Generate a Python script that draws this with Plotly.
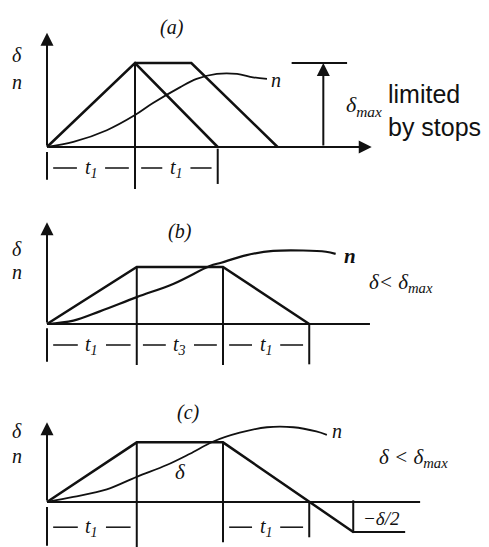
import plotly.graph_objects as go
from plotly.subplots import make_subplots

W, H = 489, 547
X0, TX, TY = 47, 88, 84   # px of time origin, px per t1, px per delta_max

# time in units of t1, deflection / speed in units of delta_max
# panel (a)
a_delta_t = [0, 1.0, 1.94]
a_delta_v = [0, 1.0, 0]
a_held_t = [1.0, 1.64, 2.62]
a_held_v = [1.0, 1.0, 0]
a_n_t = [0, 0.30, 0.68, 1.0, 1.2, 1.51, 1.7, 1.93, 2.16, 2.34, 2.5]
a_n_v = [0, 0.06, 0.20, 0.38, 0.52, 0.71, 0.81, 0.87, 0.87, 0.83, 0.81]
a_spans = [(0, 1.0, "t<sub>1</sub>"), (1.0, 1.94, "t<sub>1</sub>")]

# panel (b)
b_delta_t = [0, 1.02, 2.0, 2.98]
b_delta_v = [0, 0.68, 0.68, 0]
b_n_t = [0, 0.30, 0.60, 1.02, 1.44, 1.85, 1.98, 2.27, 2.57, 2.91, 3.17, 3.28]
b_n_v = [0, 0.04, 0.15, 0.32, 0.48, 0.69, 0.73, 0.82, 0.87, 0.875, 0.86, 0.835]
b_spans = [(0, 1.02, "t<sub>1</sub>"), (1.02, 2.0, "t<sub>3</sub>"), (2.0, 2.98, "t<sub>1</sub>")]

# panel (c)
c_delta_t = [0, 1.02, 2.0, 2.98, 3.48]
c_delta_v = [0, 0.71, 0.71, 0, -0.357]
c_n_t = [0, 0.30, 0.68, 1.02, 1.36, 1.625, 1.89, 2.19, 2.50, 2.80, 3.06, 3.18]
c_n_v = [0, 0.06, 0.15, 0.30, 0.44, 0.575, 0.72, 0.825, 0.89, 0.89, 0.84, 0.80]
c_spans = [(0, 1.02, "t<sub>1</sub>"), (2.0, 2.98, "t<sub>1</sub>")]

bands = [(0, 190, 147), (190, 365, 324), (365, 547, 502)]  # top px, bottom px, axis px

fig = make_subplots(rows=3, cols=1, row_heights=[b - t for t, b, o in bands],
                    vertical_spacing=0)

BLACK = "#111"
SERIF = "Liberation Serif"


def line(row, xs, ys, w=2.2, spline=False):
    fig.add_trace(go.Scatter(x=xs, y=ys, mode="lines",
                             line=dict(color=BLACK, width=w,
                                       shape="spline" if spline else "linear"),
                             hoverinfo="skip", showlegend=False), row=row, col=1)


def arrow(row, x, y, ax, ay):
    s = "" if row == 1 else str(row)
    fig.add_annotation(x=x, y=y, ax=ax, ay=ay, xref="x" + s, yref="y" + s,
                       axref="x" + s, ayref="y" + s, text="", showarrow=True,
                       arrowhead=2, arrowsize=1.3, arrowwidth=2, arrowcolor=BLACK,
                       standoff=0)


def text(px, py, s, size=20, font=SERIF):
    fig.add_annotation(x=px / W, y=1 - py / H, xref="paper", yref="paper",
                       text=s, showarrow=False, xanchor="center", yanchor="middle",
                       font=dict(family=font, size=size, color=BLACK))


def spans(row, items, ylev):
    xs, ys = [], []
    s_ = "" if row == 1 else str(row)
    for s, e, lab in items:
        c = (s + e) / 2
        xs += [s + 0.07, c - 0.16, None, c + 0.16, e - 0.07, None]
        ys += [ylev, ylev, None, ylev, ylev, None]
        fig.add_annotation(x=c, y=ylev, xref="x" + s_, yref="y" + s_,
                           text="<i>" + lab + "</i>", showarrow=False,
                           font=dict(family=SERIF, size=20, color=BLACK))
    line(row, xs, ys, w=1.5)


# ---------- (a)
line(1, a_delta_t, a_delta_v, 2.5)
line(1, a_held_t, a_held_v, 2.5)
line(1, a_n_t, a_n_v, 1.8, spline=True)
line(1, [0, 0], [-0.06, -0.39], 2)
line(1, [a_delta_t[1]] * 2, [a_delta_v[1], -0.5], 2)
line(1, [a_delta_t[2]] * 2, [-0.02, -0.44], 2)
arrow(1, 0, 1.36, 0, 0)
arrow(1, 3.69, 0, 0, 0)
arrow(1, 3.14, 1.0, 3.14, 0)
line(1, [2.78, 3.41], [1.0, 1.0], 2)
spans(1, a_spans, -0.25)

# ---------- (b)
line(2, b_delta_t, b_delta_v, 2.5)
line(2, b_n_t, b_n_v, 2.2, spline=True)
line(2, [0, 3.67], [0, 0], 2.2)
arrow(2, 0, 1.21, 0, 0)
line(2, [0, 0], [-0.05, -0.45], 2)
line(2, [b_delta_t[1]] * 2, [b_delta_v[1], -0.52], 2)
line(2, [b_delta_t[2]] * 2, [b_delta_v[2], -0.52], 2)
line(2, [b_delta_t[3]] * 2, [0, -0.48], 2)
spans(2, b_spans, -0.25)

# ---------- (c)
line(3, c_delta_t, c_delta_v, 2.5)
line(3, c_n_t, c_n_v, 1.8, spline=True)
line(3, [0, 4.24], [0, 0], 2.2)
arrow(3, 0, 0.95, 0, 0)
line(3, [0, 0], [-0.06, -0.52], 2)
line(3, [c_delta_t[1]] * 2, [c_delta_v[1], -0.56], 2)
line(3, [c_delta_t[2]] * 2, [c_delta_v[2], -0.48], 2)
line(3, [c_delta_t[3]] * 2, [0, -0.42], 2)
line(3, [c_delta_t[4]] * 2, [0.02, -0.37], 2)
line(3, [c_delta_t[4], 4.07], [c_delta_v[4]] * 2, 2)
spans(3, c_spans, -0.30)

# ---------- labels
text(172, 27, "<i>(a)</i>")
text(180, 232, "<i>(b)</i>")
text(188, 412, "<i>(c)</i>")
for dy, ny in [(55, 82), (249, 272), (431, 456)]:
    text(17, dy, "<i>δ</i>", 20)
    text(17, ny, "<i>n</i>", 20)
text(276, 80, "<i>n</i>")
text(350, 256, "<b><i>n</i></b>", 21)
text(337, 431, "<i>n</i>")
text(364, 106, "<i>δ<sub>max</sub></i>", 22)
fig.add_annotation(x=386 / W, y=1 - 110 / H, xref="paper", yref="paper",
                   text="limited<br>by stops", showarrow=False, align="left",
                   xanchor="left", yanchor="middle",
                   font=dict(family="Liberation Sans", size=25, color=BLACK))
text(401, 283, "<i>δ&lt; δ<sub>max</sub></i>", 21)
text(413, 458, "<i>δ &lt; δ<sub>max</sub></i>", 21)
text(180, 472, "<i>δ</i>", 21)
text(381, 518, "<i>−δ/2</i>", 19)

for i, (t, b, o) in enumerate(bands, start=1):
    fig.update_yaxes(range=[(o - b) / TY, (o - t) / TY], visible=False, row=i, col=1)
    fig.update_xaxes(range=[-X0 / TX, (W - X0) / TX], visible=False, row=i, col=1)

fig.update_layout(width=W, height=H, margin=dict(l=0, r=0, t=0, b=0),
                  plot_bgcolor="white", paper_bgcolor="white")
fig.write_html("out.html", config={"displayModeBar": False},
               post_script="document.body.style.margin='0';")
